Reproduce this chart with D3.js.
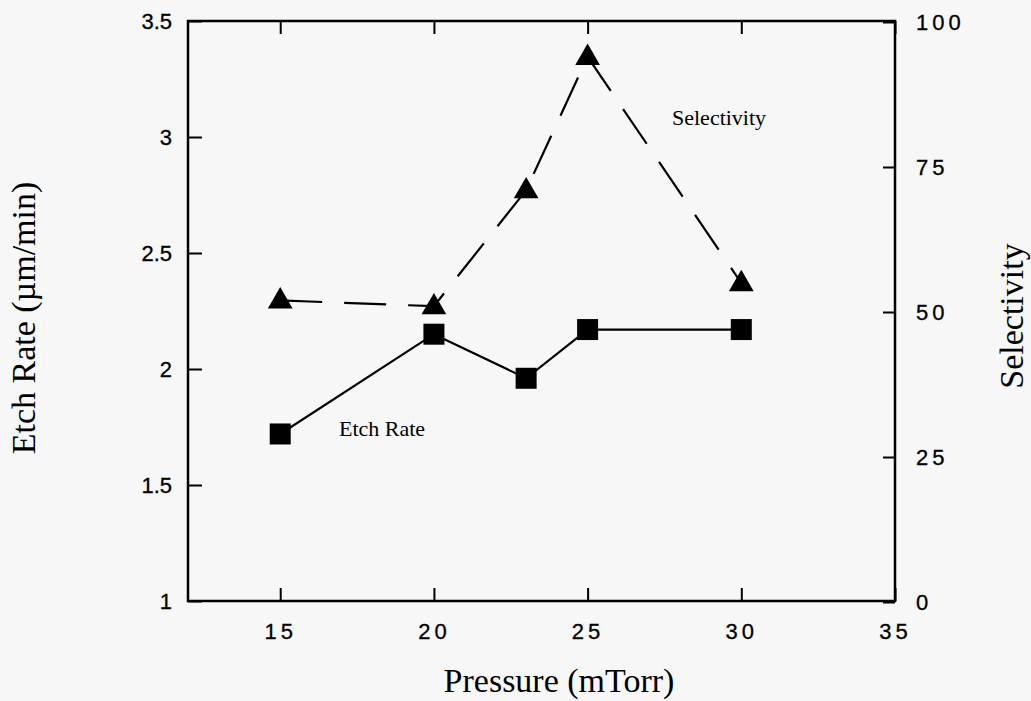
<!DOCTYPE html>
<html>
<head>
<meta charset="utf-8">
<script src="https://d3js.org/d3.v7.min.js"></script>
<style>
  html, body { margin: 0; padding: 0; background: #f7f7f7; }
  svg { display: block; }
  .tick text { font-family: "Liberation Sans", Arial, sans-serif; font-size: 22px; fill: #000; stroke: #000; stroke-width: 0.3px; }
  .spaced .tick text { letter-spacing: 4px; }
  .title { font-family: "Liberation Serif", "Times New Roman", serif; fill: #000; }
</style>
</head>
<body>
<svg width="1031" height="701"></svg>
<script>
// pressure (mTorr)
var pressure = [15, 20, 23, 25, 30];
// etch rate (um/min), left axis
var etchRate = [1.72, 2.15, 1.96, 2.17, 2.17];
// selectivity, right axis
var selectivity = [52, 51, 71, 94, 55];

var xTicks = [15, 20, 25, 30, 35];
var yLeftTicks = [1, 1.5, 2, 2.5, 3, 3.5];
var yRightTicks = [0, 25, 50, 75, 100];

var svg = d3.select("svg");
var plotL = 188, plotR = 895, plotT = 21, plotB = 601;

var x = d3.scaleLinear().domain([12, 35]).range([plotL, plotR]);
var yL = d3.scaleLinear().domain([1, 3.5]).range([plotB, plotT]);
var yR = d3.scaleLinear().domain([0, 100]).range([plotB + 1, plotT + 1]);

// frame
svg.append("rect")
    .attr("x", plotL).attr("y", plotT)
    .attr("width", plotR - plotL).attr("height", plotB - plotT)
    .attr("fill", "none").attr("stroke", "#000").attr("stroke-width", 2.5);

// axes, ticks drawn inward
svg.append("g").attr("class", "spaced")
    .attr("transform", "translate(0," + plotB + ")")
    .call(d3.axisBottom(x).tickValues(xTicks).tickSize(-13).tickPadding(22).tickFormat(d3.format("d")));

svg.append("g")
    .attr("transform", "translate(0," + plotT + ")")
    .call(d3.axisTop(x).tickValues(xTicks).tickSize(-13).tickFormat(""));

svg.append("g")
    .attr("transform", "translate(" + plotL + ",0)")
    .call(d3.axisLeft(yL).tickValues(yLeftTicks).tickSize(-14).tickPadding(16).tickFormat(function(d) { return d; }));

svg.append("g").attr("class", "spaced")
    .attr("transform", "translate(" + plotR + ",0)")
    .call(d3.axisRight(yR).tickValues(yRightTicks).tickSize(-12).tickPadding(21).tickFormat(d3.format("d")));

svg.selectAll(".domain").remove();
svg.selectAll(".tick line").attr("stroke", "#000").attr("stroke-width", 2);

// selectivity dashed line with triangles
var selLine = d3.line()
    .x(function(d, i) { return x(pressure[i]); })
    .y(function(d) { return yR(d); });

svg.append("path")
    .datum(selectivity)
    .attr("d", selLine)
    .attr("fill", "none").attr("stroke", "#000").attr("stroke-width", 2.2)
    .attr("stroke-dasharray", "42,22");

var tri = d3.symbol().type(d3.symbolTriangle).size(265);
svg.selectAll(".tri")
    .data(selectivity)
    .enter().append("path")
    .attr("class", "tri")
    .attr("d", tri)
    .attr("transform", function(d, i) { return "translate(" + x(pressure[i]) + "," + (yR(d) + 1) + ")"; })
    .attr("fill", "#000");

// etch rate solid line with squares
var erLine = d3.line()
    .x(function(d, i) { return x(pressure[i]); })
    .y(function(d) { return yL(d); });

svg.append("path")
    .datum(etchRate)
    .attr("d", erLine)
    .attr("fill", "none").attr("stroke", "#000").attr("stroke-width", 2.2);

svg.selectAll(".sq")
    .data(etchRate)
    .enter().append("rect")
    .attr("class", "sq")
    .attr("x", function(d, i) { return x(pressure[i]) - 10.5; })
    .attr("y", function(d) { return yL(d) - 10.5; })
    .attr("width", 21).attr("height", 21)
    .attr("fill", "#000");

// annotations
svg.append("text").attr("class", "title")
    .attr("x", 339).attr("y", 436)
    .style("font-size", "22px")
    .text("Etch Rate");

svg.append("text").attr("class", "title")
    .attr("x", 672).attr("y", 125)
    .style("font-size", "22px")
    .text("Selectivity");

// axis titles
svg.append("text").attr("class", "title")
    .attr("x", 559).attr("y", 692)
    .attr("text-anchor", "middle")
    .style("font-size", "34px")
    .text("Pressure (mTorr)");

svg.append("text").attr("class", "title")
    .attr("transform", "translate(35,318) rotate(-90)")
    .attr("text-anchor", "middle")
    .style("font-size", "34px")
    .text("Etch Rate (\u00b5m/min)");

svg.append("text").attr("class", "title")
    .attr("transform", "translate(1023,316) rotate(-90)")
    .attr("text-anchor", "middle")
    .style("font-size", "34px")
    .text("Selectivity");
</script>
</body>
</html>
